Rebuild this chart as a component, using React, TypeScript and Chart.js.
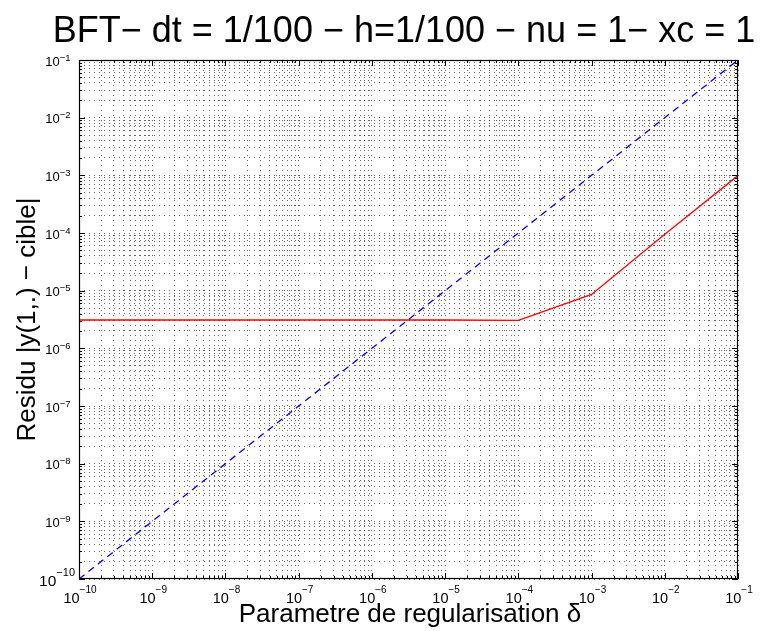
import React, { useEffect, useRef } from 'react';
import { Chart, registerables } from 'chart.js';

Chart.register(...registerables);

// ---- data ----
const deltaValues = [1e-10, 1e-9, 1e-8, 1e-7, 1e-6, 1e-5, 1e-4, 1e-3, 1e-2, 1e-1];
const referenceLine = [1e-10, 1e-9, 1e-8, 1e-7, 1e-6, 1e-5, 1e-4, 1e-3, 1e-2, 1e-1];
const residuValues = [3.1e-6, 3.1e-6, 3.1e-6, 3.1e-6, 3.1e-6, 3.1e-6, 3.05e-6, 8.6e-6, 9.5e-5, 9.9e-4];
const decadeExponents = [-10, -9, -8, -7, -6, -5, -4, -3, -2, -1];
const minorMultipliers = [1, 2, 3, 4, 5, 6, 7, 8, 9];

const titleText = 'BFT\u2212 dt = 1/100 \u2212 h=1/100 \u2212 nu = 1\u2212 xc = 1';
const xAxisTitle = 'Parametre de regularisation \u03b4';
const yAxisTitle = 'Residu |y(1,.) \u2212 cible|';

const FONT = '"Liberation Sans", Arial, Helvetica, sans-serif';

function logTicks() {
  const out: { value: number }[] = [];
  for (let i = 0; i < decadeExponents.length - 1; i++) {
    for (const m of minorMultipliers) {
      out.push({ value: parseFloat(`${m}e${decadeExponents[i]}`) });
    }
  }
  out.push({ value: parseFloat(`1e${decadeExponents[decadeExponents.length - 1]}`) });
  return out;
}

function isDecade(v: number) {
  const l = Math.log10(v);
  return Math.abs(l - Math.round(l)) < 1e-6;
}

function supLabel(exp: number) {
  return `\u2212${Math.abs(exp)}`;
}

const matlabPlugin = {
  id: 'matlabDecor',
  afterDatasetsDraw(chart: any) {
    const { ctx, chartArea: a, scales } = chart;
    const xs = scales.x;
    const ys = scales.y;
    ctx.save();
    ctx.strokeStyle = '#000';
    ctx.lineWidth = 1;
    ctx.setLineDash([]);
    ctx.beginPath();
    for (const t of xs.ticks) {
      const px = Math.round(xs.getPixelForValue(t.value)) + 0.5;
      const len = isDecade(t.value) ? 6 : 3;
      ctx.moveTo(px, a.bottom);
      ctx.lineTo(px, a.bottom - len);
      ctx.moveTo(px, a.top);
      ctx.lineTo(px, a.top + len);
    }
    for (const t of ys.ticks) {
      const py = Math.round(ys.getPixelForValue(t.value)) + 0.5;
      const len = isDecade(t.value) ? 6 : 3;
      ctx.moveTo(a.left, py);
      ctx.lineTo(a.left + len, py);
      ctx.moveTo(a.right, py);
      ctx.lineTo(a.right - len, py);
    }
    ctx.stroke();
    ctx.lineWidth = 1.2;
    ctx.strokeRect(a.left + 0.5, a.top + 0.5, a.right - a.left - 1, a.bottom - a.top - 1);
    ctx.restore();
  },
  afterDraw(chart: any) {
    const { ctx, chartArea: a, scales } = chart;
    const xs = scales.x;
    const ys = scales.y;
    ctx.save();
    ctx.fillStyle = '#000';

    // y tick labels
    for (const e of decadeExponents) {
      const v = parseFloat(`1e${e}`);
      const py = ys.getPixelForValue(v);
      const big = e === -10;
      const mainSize = big ? 15.5 : 13;
      const supSize = big ? 11 : 9.5;
      const rightEdge = big ? 75 : 70.5;
      ctx.font = `${supSize}px ${FONT}`;
      const sup = supLabel(e);
      const supW = ctx.measureText(sup).width;
      ctx.textAlign = 'left';
      ctx.textBaseline = 'alphabetic';
      ctx.fillText(sup, rightEdge - supW, py + (big ? -3.5 : 0.5));
      ctx.font = `${mainSize}px ${FONT}`;
      const mainW = ctx.measureText('10').width;
      ctx.fillText('10', rightEdge - supW - mainW, py + (big ? 6.5 : 5.5));
    }

    // x tick labels
    for (const e of decadeExponents) {
      const v = parseFloat(`1e${e}`);
      const px = xs.getPixelForValue(v);
      ctx.font = `10px ${FONT}`;
      const sup = supLabel(e);
      const supW = ctx.measureText(sup).width;
      ctx.font = `14.5px ${FONT}`;
      const mainW = ctx.measureText('10').width;
      const start = px - (supW + mainW) / 2 + 1;
      ctx.textAlign = 'left';
      ctx.textBaseline = 'alphabetic';
      ctx.fillText('10', start, 602.5);
      ctx.font = `10px ${FONT}`;
      ctx.fillText(sup, start + mainW, 593);
    }

    // title
    ctx.font = `36px ${FONT}`;
    ctx.textAlign = 'center';
    ctx.textBaseline = 'alphabetic';
    ctx.fillText(titleText, 404, 42);

    // x axis title
    ctx.font = `26px ${FONT}`;
    ctx.fillText(xAxisTitle, 410, 622);

    // y axis title
    ctx.save();
    ctx.translate(35, (a.top + a.bottom) / 2);
    ctx.rotate(-Math.PI / 2);
    ctx.font = `26px ${FONT}`;
    ctx.textAlign = 'center';
    ctx.fillText(yAxisTitle, 0, 0);
    ctx.restore();

    ctx.restore();
  },
};

export default function App() {
  const canvasRef = useRef<HTMLCanvasElement | null>(null);

  useEffect(() => {
    if (!canvasRef.current) return;
    const gridOpts = {
      display: true,
      drawTicks: false,
      color: 'rgba(0,0,0,0.6)',
      lineWidth: 1,
      borderDash: [1, 4],
    };
    const chart = new Chart(canvasRef.current, {
      type: 'line',
      data: {
        datasets: [
          {
            label: 'reference',
            data: deltaValues.map((x, i) => ({ x, y: referenceLine[i] })),
            borderColor: '#0000ff',
            borderWidth: 1.3,
            borderDash: [7, 5],
            pointRadius: 0,
            fill: false,
            tension: 0,
          },
          {
            label: 'residu',
            data: deltaValues.map((x, i) => ({ x, y: residuValues[i] })),
            borderColor: '#ff0000',
            borderWidth: 1.3,
            pointRadius: 0,
            fill: false,
            tension: 0,
          },
        ],
      },
      options: {
        responsive: false,
        animation: false,
        events: [],
        layout: { padding: { left: 79, right: 24, top: 60, bottom: 52 } },
        plugins: {
          legend: { display: false },
          title: { display: false },
          tooltip: { enabled: false },
        },
        scales: {
          x: {
            type: 'logarithmic',
            min: 1e-10,
            max: 1e-1,
            afterBuildTicks: (axis: any) => {
              axis.ticks = logTicks();
            },
            ticks: { display: false, autoSkip: false },
            grid: gridOpts as any,
            border: { display: false, dash: [1, 4] },
            title: { display: false },
          },
          y: {
            type: 'logarithmic',
            min: 1e-10,
            max: 1e-1,
            afterBuildTicks: (axis: any) => {
              axis.ticks = logTicks();
            },
            ticks: { display: false, autoSkip: false },
            grid: gridOpts as any,
            border: { display: false, dash: [1, 4] },
            title: { display: false },
          },
        },
      } as any,
      plugins: [matlabPlugin],
    });
    return () => chart.destroy();
  }, []);

  return (
    <div style={{ position: 'absolute', left: 0, top: 0, width: 762, height: 631, background: '#fff' }}>
      <canvas ref={canvasRef} width={762} height={631} style={{ display: 'block' }} />
    </div>
  );
}
